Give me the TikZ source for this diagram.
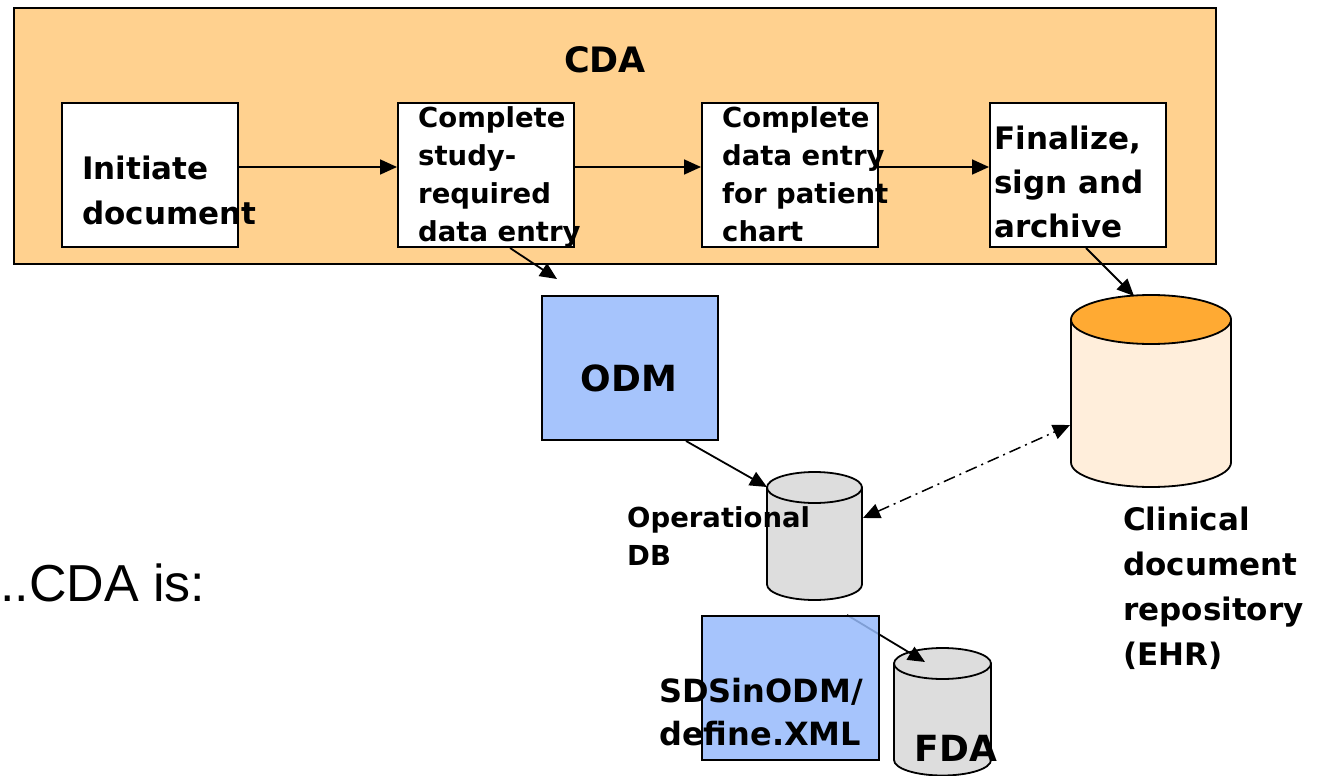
\documentclass[tikz,border=0pt]{standalone}
\usepackage{fontspec}
\setmainfont{DejaVu Sans}
\newfontfamily\introfont{Liberation Sans}
\usetikzlibrary{arrows.meta,backgrounds}

\definecolor{cdafill}{HTML}{FFD18F}
\definecolor{odmblue}{HTML}{A6C4FC}
\definecolor{sdsblue}{HTML}{96BAFB}
\definecolor{dbgray}{HTML}{DDDDDD}
\definecolor{repobody}{HTML}{FFEEDB}
\definecolor{repotop}{HTML}{FFAA33}

\tikzset{
  stepbox/.style={draw=black, line width=2pt, fill=white,
    minimum width=176pt, minimum height=144pt, inner sep=0pt},
  smalltext/.style={font=\bfseries\fontsize{27.5}{38}\selectfont,
    align=left, inner sep=0pt, anchor=west},
  largetext/.style={font=\bfseries\fontsize{31}{45}\selectfont,
    align=left, inner sep=0pt, anchor=west},
  flow/.style={line width=1.8pt, -{Triangle[length=17pt,width=15pt]}},
  twoway/.style={line width=1.5pt, dash pattern=on 12pt off 5pt on 2pt off 5pt,
    {Triangle[length=17pt,width=15pt]}-{Triangle[length=17pt,width=15pt]}},
  cylline/.style={line width=1.8pt, draw=black},
}

\begin{document}
\begin{tikzpicture}[x=1pt,y=-1pt]
\useasboundingbox (0,0) rectangle (1318,776);

% CDA frame with its four workflow steps
\node[draw=black, line width=2.2pt, fill=cdafill, minimum width=1202pt,
      minimum height=256pt, inner sep=0pt] (cda) at (615,136) {};
\node[font=\bfseries\fontsize{35}{40}\selectfont, inner sep=0pt] (cdatitle) at (605,60) {CDA};

\node[stepbox] (init)  at (150,175) {};
\node[stepbox] (study) at (486,175) {};
\node[stepbox] (chart) at (790,175) {};
\node[stepbox] (final) at (1078,175) {};

\node[largetext] (initT) at (82,190.5) {Initiate\\document};
\node[smalltext] (studyT) at (418,177.5) {Complete\\study-\\required\\data entry};
\node[smalltext] (chartT) at (722,174.5) {Complete\\data entry\\for patient\\chart};
\node[largetext, font=\bfseries\fontsize{31}{44}\selectfont] (finalT) at (994,182) {Finalize,\\sign and\\archive};

\draw[flow] ([yshift=8pt]init.east)  -- ([yshift=8pt]study.west);
\draw[flow] ([yshift=8pt]study.east) -- ([yshift=8pt]chart.west);
\draw[flow] ([yshift=8pt]chart.east) -- ([yshift=8pt]final.west);

% ODM
\node[draw=black, line width=2pt, fill=odmblue, minimum width=176pt,
      minimum height=144pt, inner sep=0pt] (odm) at (630,368) {};
\node[font=\bfseries\fontsize{36}{40}\selectfont, inner sep=0pt] (odmT) at (629,378) {ODM};
\coordinate (odmIn) at (557,279);
\draw[flow] ([xshift=24pt]study.south) -- (odmIn);

% Operational DB cylinder
\filldraw[cylline, fill=dbgray] (767,487.5) -- (767,584.5)
  arc[start angle=180, end angle=360, x radius=47.5pt, y radius=15.5pt]
  -- (862,487.5) -- cycle;
\filldraw[cylline, fill=dbgray] (814.5,487.5) ellipse[x radius=47.5pt, y radius=15.5pt];
\coordinate (opdbIn) at (767,487);
\coordinate (opdbR) at (863,518);
\node[smalltext] (opdbT) at (627,536.5) {Operational\\DB};
\draw[flow] ([xshift=56pt]odm.south) -- (opdbIn);

% Clinical document repository cylinder
\filldraw[cylline, fill=repobody] (1071,319.5) -- (1071,462.5)
  arc[start angle=180, end angle=360, x radius=80pt, y radius=24.5pt]
  -- (1231,319.5) -- cycle;
\filldraw[cylline, fill=repotop] (1151,319.5) ellipse[x radius=80pt, y radius=24.5pt];
\coordinate (repoIn) at (1134,296);
\coordinate (repoL) at (1070,425);
\node[largetext] (repoT) at (1123,588.5) {Clinical\\document\\repository\\(EHR)};
\draw[flow] ([xshift=8pt]final.south) -- (repoIn);

\draw[twoway] (opdbR) -- (repoL);

% Submission to FDA: the box is slightly see-through over the export arrow
\node[draw=black, line width=2pt, fill=sdsblue, fill opacity=0.85,
      minimum width=177pt, minimum height=144pt, inner sep=0pt] (sds) at (790.5,688) {};
\coordinate (fdaIn) at (925,662);
\begin{pgfonlayer}{background}
  \filldraw[cylline, fill=dbgray] (894,663.5) -- (894,760)
    arc[start angle=180, end angle=360, x radius=48.5pt, y radius=15.5pt]
    -- (991,663.5) -- cycle;
  \filldraw[cylline, fill=dbgray] (942.5,663.5) ellipse[x radius=48.5pt, y radius=15.5pt];
  \draw[flow] ([xshift=56.5pt]sds.north) -- (fdaIn);
\end{pgfonlayer}
\node[largetext, font=\bfseries\fontsize{32}{43}\selectfont] (sdsT) at (659,712) {SDSinODM/\\define.XML};
\node[font=\bfseries\fontsize{36}{40}\selectfont, inner sep=0pt] (fdaT) at (956,748) {FDA};

% Lead-in caption
\node[font=\introfont\fontsize{52}{60}\selectfont, anchor=base west, inner sep=0pt] (intro) at (0,601) {..CDA is:};
\end{tikzpicture}
\end{document}
